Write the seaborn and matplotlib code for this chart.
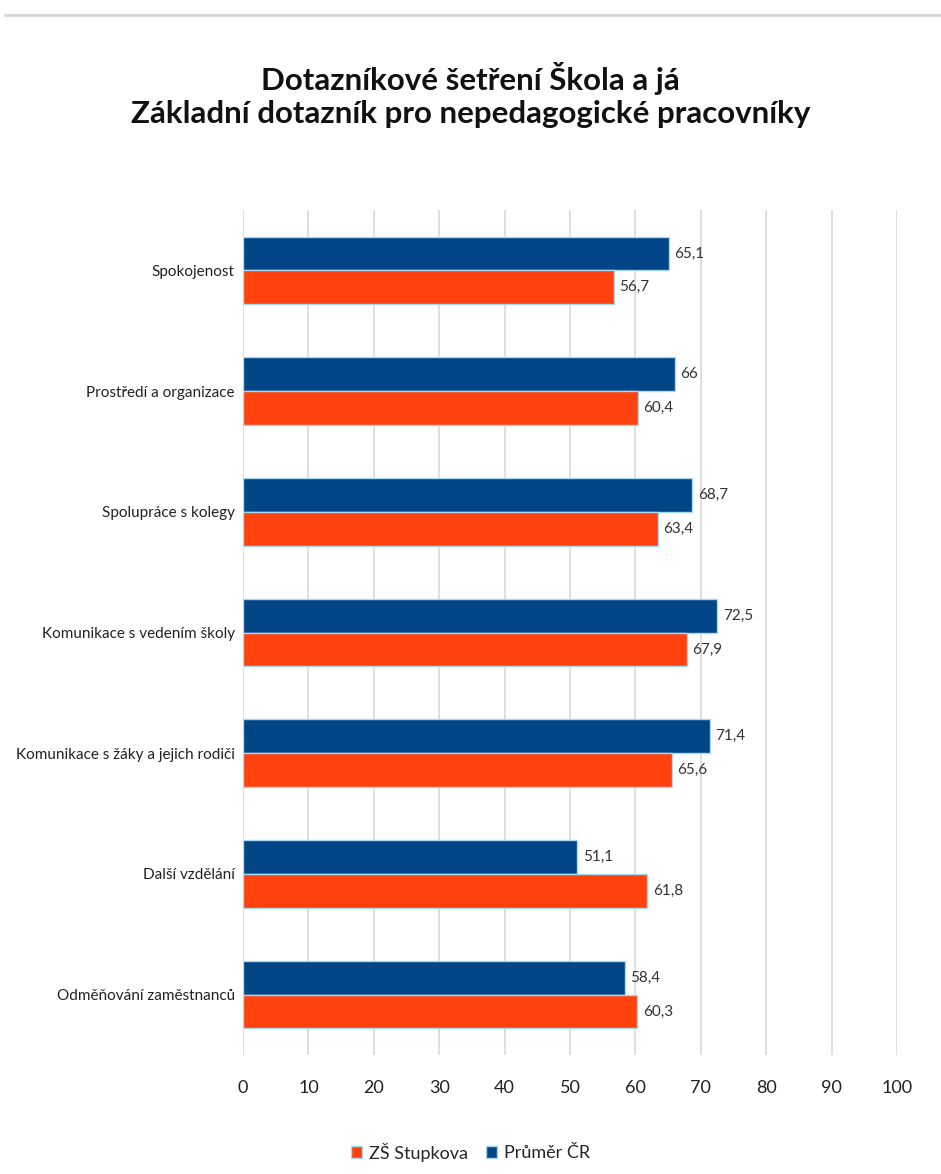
import numpy as np
import pandas as pd
import matplotlib.pyplot as plt
import seaborn as sns
from matplotlib.lines import Line2D

# Data
categories = ['Spokojenost', 'Prostředí a organizace', 'Spolupráce s kolegy',
              'Komunikace s vedením školy', 'Komunikace s žáky a jejich rodiči',
              'Další vzdělání', 'Odměňování zaměstnanců']
skola = [56.7, 60.4, 63.4, 67.9, 65.6, 61.8, 60.3]
prumer = [65.1, 66.0, 68.7, 72.5, 71.4, 51.1, 58.4]
series_names = ['ZŠ Stupkova', 'Průměr ČR']
colors = {'ZŠ Stupkova': '#ff420e', 'Průměr ČR': '#004586'}

df = pd.DataFrame({
    'Oblast': categories * 2,
    'Hodnota': prumer + skola,
    'Série': ['Průměr ČR'] * len(categories) + ['ZŠ Stupkova'] * len(categories),
})

sns.set_style('white')
plt.rcParams['font.family'] = ['Lato', 'DejaVu Sans']

fig = plt.figure(figsize=(9.41, 11.74), dpi=100)
ax = fig.add_axes([243 / 941, 1 - 1055 / 1174, (897 - 243) / 941, (1055 - 210) / 1174])

sns.barplot(data=df, y='Oblast', x='Hodnota', hue='Série',
            hue_order=['Průměr ČR', 'ZŠ Stupkova'], palette=colors, saturation=1,
            orient='h', width=0.56, edgecolor='#a9d8f2', linewidth=1,
            legend=False, ax=ax)

for cont in ax.containers:
    ax.bar_label(cont, labels=[f'{v:g}'.replace('.', ',') for v in cont.datavalues],
                 padding=4, fontsize=11, color='#333333')

ax.set_xlim(0, 100)
ax.set_xticks(np.arange(0, 101, 10))
ax.xaxis.grid(True, color='#d9d9d9', linewidth=1.2)
ax.set_axisbelow(True)
for s in ax.spines.values():
    s.set_visible(False)
ax.set_xlabel('')
ax.set_ylabel('')
ax.tick_params(axis='x', labelsize=13, pad=18, length=0, colors='#222222')
ax.tick_params(axis='y', labelsize=11, length=0, pad=6, colors='#222222')

fig.text(0.5, 1 - 95 / 1174, 'Dotazníkové šetření Škola a já\nZákladní dotazník pro nepedagogické pracovníky',
         ha='center', va='center', fontsize=22.5, fontweight='bold', linespacing=1.2,
         color='#111111')

handles = [plt.Rectangle((0, 0), 1, 1, facecolor=colors[n], edgecolor='#a9d8f2') for n in series_names]
fig.legend(handles, series_names, loc='center', bbox_to_anchor=(0.5, 1 - 1152 / 1174),
           ncol=2, frameon=False, fontsize=13, handlelength=0.6, handleheight=0.6,
           handletextpad=0.4, columnspacing=1.0)

fig.add_artist(Line2D([5 / 941, 1], [1 - 15 / 1174] * 2, color='#d4d4d4', linewidth=2))

fig.savefig('out.png', dpi=100, facecolor='white')
